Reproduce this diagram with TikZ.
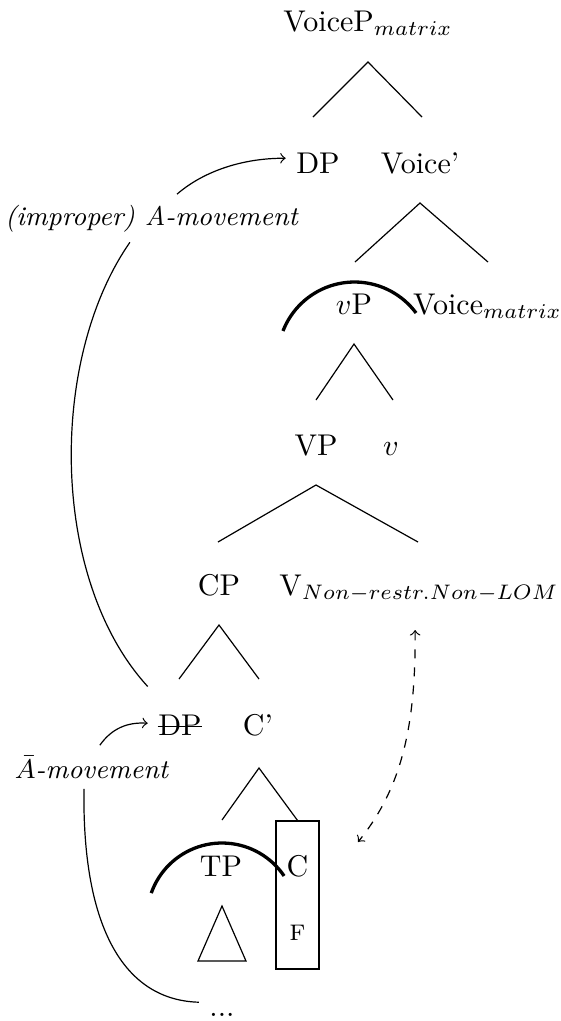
\documentclass[tikz,border=0pt]{standalone}
\begin{document}
\begin{tikzpicture}[x=0.3333pt,y=-0.3333pt,
  lab/.style={anchor=base},
  mvlabel/.style={anchor=base, font=\small\itshape},
  branch/.style={line width=0.4pt},
  heavyarc/.style={line width=1.1pt},
  mvarrow/.style={->, line width=0.4pt}]
\useasboundingbox (0,0) rectangle (561,1021);
% labels of the tree
\node[lab] (voicep) at (368,31) {VoiceP$_{matrix}$};
\node[lab] (dp) at (318,173) {DP};
\node[lab] (voicebar) at (420,173) {Voice'};
\node[lab] (vp) at (354,314) {$v$P};
\node[lab] (voicem) at (487.5,314) {Voice$_{matrix}$};
\node[lab] (bigvp) at (316,455) {VP};
\node[lab] (vhead) at (391,455) {$v$};
\node[lab] (cp) at (219,595) {CP};
\node[lab] (vnon) at (419,595) {V$_{Non-restr.Non-LOM}$};
\node[lab] (dps) at (180,735) {DP};
\node[lab] (cbar) at (258,735) {C'};
\node[lab] (tp) at (221,876) {TP};
\node[lab] (chead) at (297.5,876) {C};
\node[lab] (f) at (297.5,940) {\textsc{f}};
\node[lab] (dots) at (222,1016) {...};
\node[mvlabel] (impr) at (151.5,225) {(improper) A-movement};
\node[mvlabel] (abar) at (91.5,778) {$\bar{A}$-movement};
\node[draw, line width=0.4pt, minimum width=14.33pt, minimum height=49.33pt, inner sep=0pt] (cbox) at (297.5,895) {};
% strike-through of the lower DP
\draw[line width=0.4pt] ([xshift=3.33pt,yshift=-0.6pt]dps.west) -- ([xshift=-3.33pt,yshift=-0.6pt]dps.east);
% branches
\coordinate (a1) at (368,62);  \coordinate (l1) at (313,117); \coordinate (r1) at (422,117);
\coordinate (a2) at (420,203); \coordinate (l2) at (355,262); \coordinate (r2) at (488,262);
\coordinate (a3) at (354,344); \coordinate (l3) at (316,400); \coordinate (r3) at (393,400);
\coordinate (a4) at (316,485); \coordinate (l4) at (218,542); \coordinate (r4) at (418,542);
\coordinate (a5) at (219,625); \coordinate (l5) at (179,679); \coordinate (r5) at (259,679);
\coordinate (a6) at (259,768); \coordinate (l6) at (222,820);
\draw[branch] (l1) -- (a1) -- (r1);
\draw[branch] (l2) -- (a2) -- (r2);
\draw[branch] (l3) -- (a3) -- (r3);
\draw[branch] (l4) -- (a4) -- (r4);
\draw[branch] (l5) -- (a5) -- (r5);
\draw[branch] (l6) -- (a6) -- (cbox.north);
% triangle under TP
\coordinate (ta) at (222,906); \coordinate (tl) at (198,961); \coordinate (tr) at (246,961);
\draw[branch] (ta) -- (tl) -- (tr) -- cycle;
% heavy arcs
\draw[heavyarc] plot[domain=-158.8:-36.6, samples=40, smooth] ({354.5+76.7*cos(\x)},{358.7+76.7*sin(\x)});
\draw[heavyarc] plot[domain=-160.6:-34.1, samples=40, smooth] ({222+75*cos(\x)},{918+75*sin(\x)});
% movement lines
\draw[branch] ([xshift=-7.2pt]impr.south) .. controls (48,360) and (50,580) .. ([yshift=5.8pt]dps.north west);
\draw[mvarrow] ([xshift=8.5pt]impr.north) .. controls (205,170) and (245,158) .. ([yshift=1.5pt]dp.west);
\draw[mvarrow] ([xshift=2.8pt]abar.north) .. controls (112,728) and (128,722) .. ([yshift=0.5pt]dps.west);
\draw[branch] ([xshift=-2.5pt]abar.south) .. controls (82,920) and (120,1000) .. (dots.north west);
% dashed agreement arrow
\coordinate (dashend) at (358,842);
\draw[<->, dashed, line width=0.4pt] ([xshift=-1.3pt,yshift=-5.8pt]vnon.south) .. controls (416,730) and (400,790) .. (dashend);
\end{tikzpicture}
\end{document}
